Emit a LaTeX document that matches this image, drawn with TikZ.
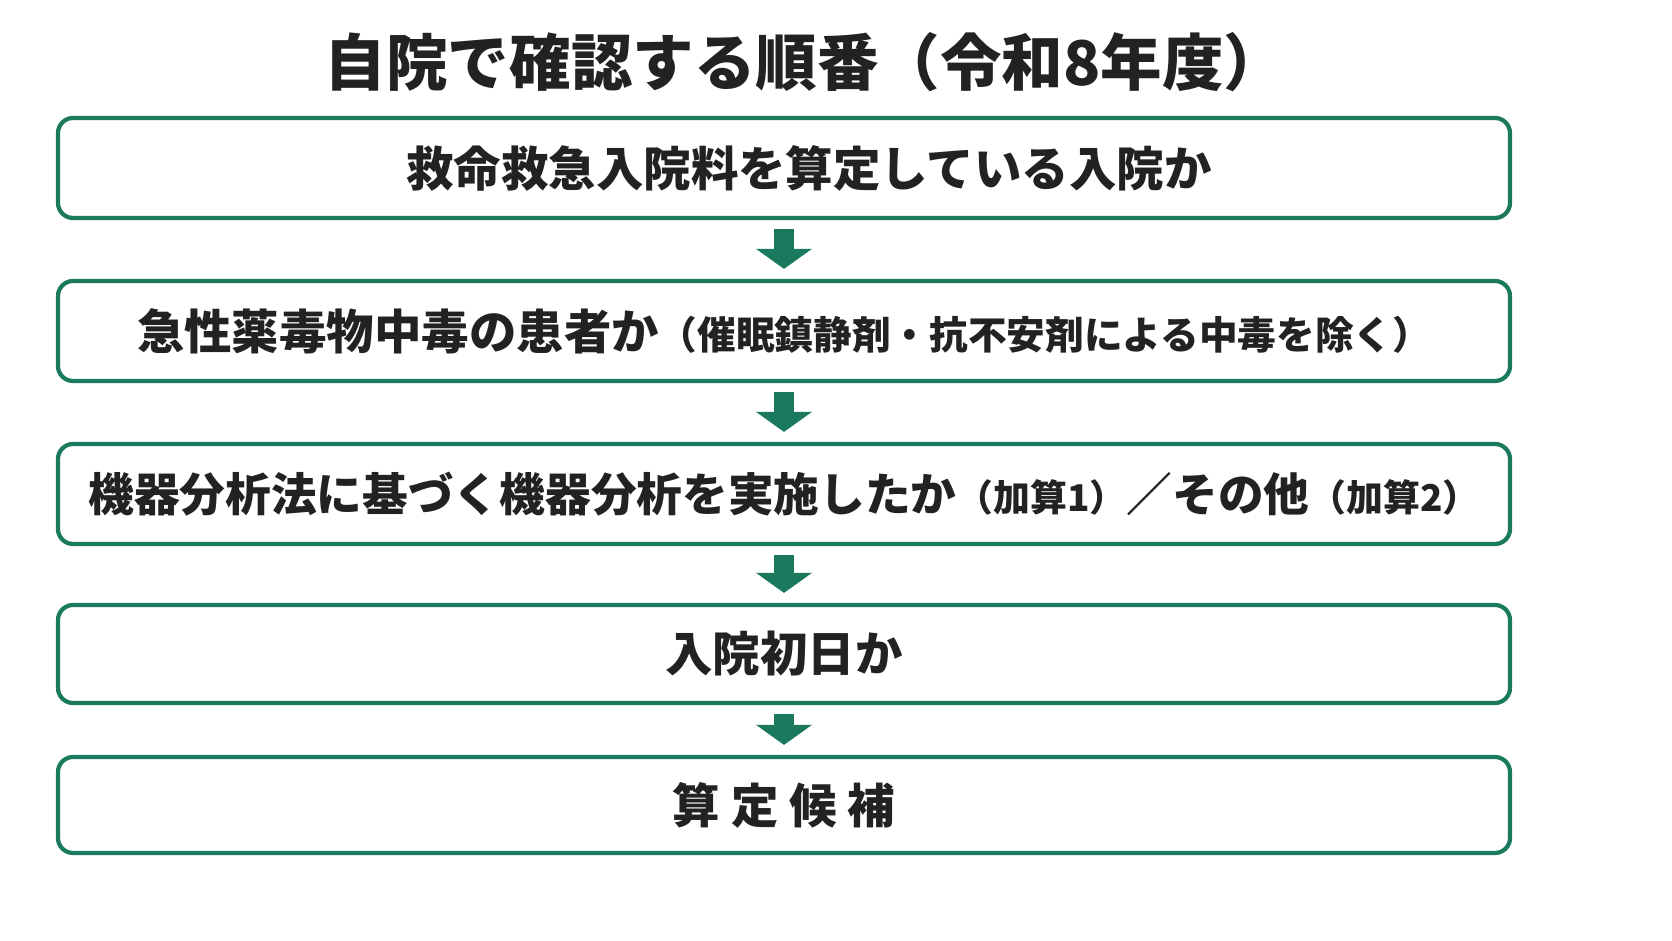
\documentclass[tikz,border=0pt]{standalone}
\usepackage{fontspec}
\setmainfont{Noto Sans CJK JP}
\usetikzlibrary{arrows.meta, positioning}
\definecolor{stepgreen}{HTML}{1B7A5E}
\definecolor{inkdark}{HTML}{222222}

\begin{document}
\begin{tikzpicture}[
    checkbox/.style={draw=stepgreen, line width=2.4pt, rounded corners=0.3cm,
      minimum width=29.04cm, minimum height=2cm, text=inkdark,
      font=\fontsize{27}{30}\selectfont\bfseries},
    flow/.style={-{Triangle[width=1.1cm, length=0.4cm]}, stepgreen,
      line width=0.4cm, shorten <=0.18cm, shorten >=0.2cm}
  ]
    % Title
    \node[text=inkdark, font=\fontsize{35}{40}\selectfont\bfseries] (title) at (16.1,17.58)
      {自院で確認する順番（令和8年度）};

    % Steps
    \node[checkbox] (inpatient) at (15.68,15.46) {\hspace{1cm}救命救急入院料を算定している入院か};
    \node[checkbox] (poison) at (15.68,12.2)
      {急性薬毒物中毒の患者か{\fontsize{22}{26}\selectfont（催眠鎮静剤・抗不安剤による中毒を除く）}};
    \node[checkbox, font=\fontsize{26}{30}\selectfont\bfseries] (analysis) at (15.68,8.94)
      {機器分析法に基づく機器分析を実施したか{\fontsize{21}{24}\selectfont（加算1）}／その他{\fontsize{21}{24}\selectfont（加算2）}};
    \node[checkbox, minimum height=1.96cm] (firstday) at (15.68,5.74) {入院初日か};
    \node[checkbox, minimum height=1.92cm] (candidate) at (15.68,2.72) {算 定 候 補};

    % Arrows between steps
    \draw[flow] (inpatient) -- (poison);
    \draw[flow] (poison) -- (analysis);
    \draw[flow] (analysis) -- (firstday);
    \draw[flow] (firstday) -- (candidate);

    \pgfresetboundingbox
    \useasboundingbox (0,0) rectangle (33.44,18.82);
  \end{tikzpicture}
\end{document}
